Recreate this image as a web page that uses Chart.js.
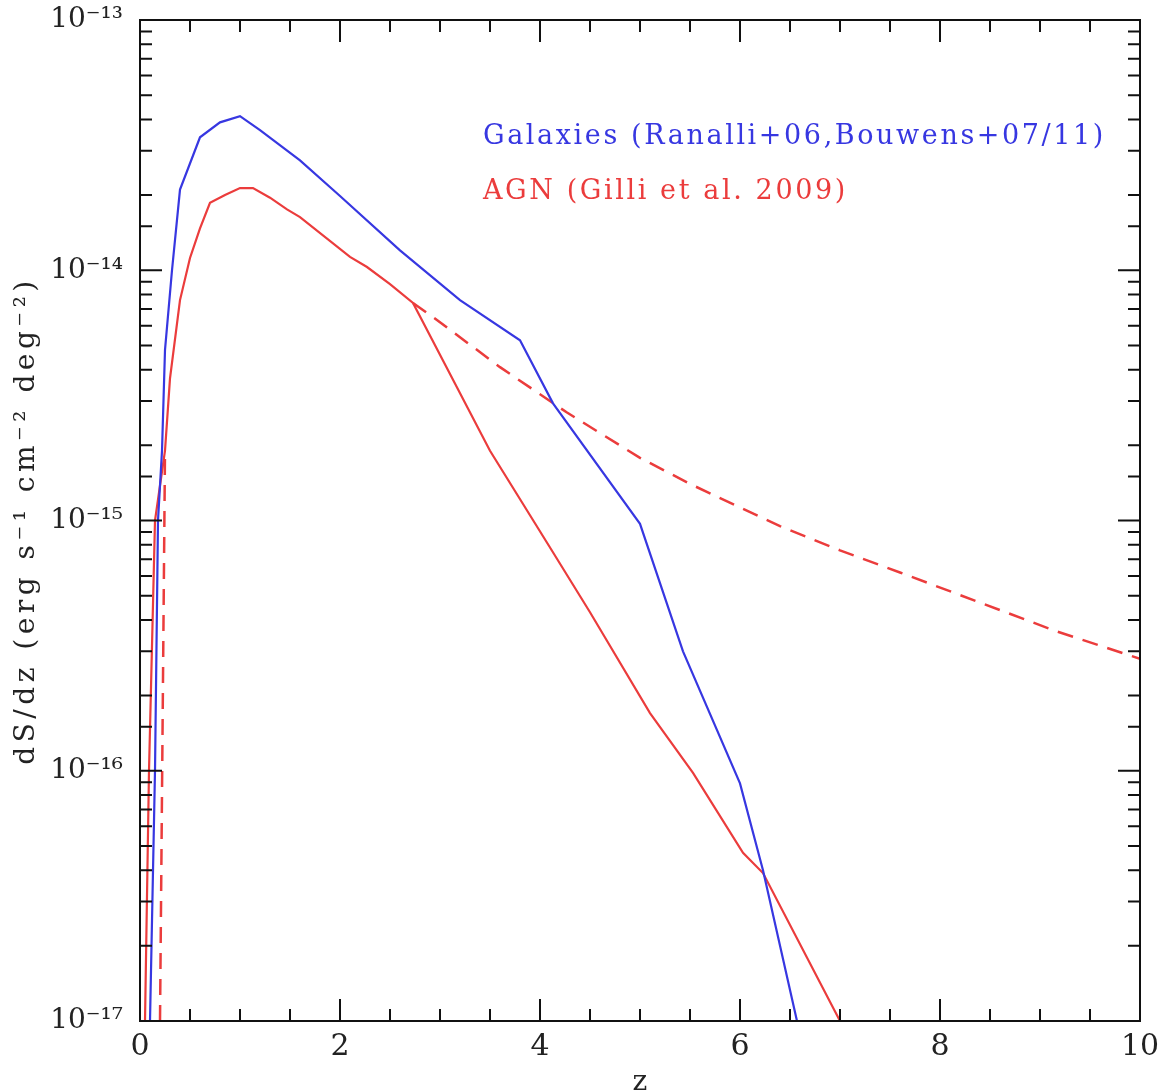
<!DOCTYPE html>
<html>
<head>
<meta charset="utf-8">
<script src="https://cdn.jsdelivr.net/npm/chart.js@4.4.1/dist/chart.umd.min.js"></script>
<style>
  body { margin: 0; background: #fff; }
  #wrap { width: 1160px; height: 1092px; }
</style>
</head>
<body>
<div id="wrap"><canvas id="myChart"></canvas></div>
<script>
// galaxies (blue solid)
const zGal = [0.1, 0.15, 0.18, 0.22, 0.25, 0.32, 0.4, 0.6, 0.8, 1.0, 1.2, 1.6, 2.0, 2.6, 3.2, 3.8, 4.13, 5.0, 5.43, 6.0, 6.23, 6.57];
const galaxies = [1e-17, 1e-16, 1e-15, 1.9e-15, 4.8e-15, 1e-14, 2.1e-14, 3.4e-14, 3.9e-14, 4.13e-14, 3.63e-14, 2.75e-14, 1.98e-14, 1.2e-14, 7.6e-15, 5.25e-15, 2.94e-15, 9.7e-16, 3.0e-16, 8.9e-17, 4.0e-17, 1e-17];

// AGN (red solid)
const zAgn = [0.05, 0.09, 0.15, 0.25, 0.3, 0.4, 0.5, 0.6, 0.7, 0.85, 1.0, 1.13, 1.3, 1.47, 1.6, 2.1, 2.27, 2.5, 2.73, 3.5, 4.1, 4.5, 5.1, 5.53, 6.03, 6.23, 7.0];
const agnSolid = [1e-17, 1e-16, 1e-15, 1.9e-15, 3.7e-15, 7.6e-15, 1.12e-14, 1.47e-14, 1.86e-14, 2.0e-14, 2.13e-14, 2.13e-14, 1.95e-14, 1.75e-14, 1.63e-14, 1.13e-14, 1.03e-14, 8.8e-15, 7.4e-15, 1.9e-15, 7.8e-16, 4.3e-16, 1.7e-16, 9.8e-17, 4.7e-17, 3.9e-17, 1e-17];

// AGN (red dashed), null = gap where it runs under the solid line
const zAgnDash = [0.2, 0.25, 1.0, 2.73, 2.93, 3.6, 4.27, 5.0, 5.5, 6.4, 7.0, 7.6, 8.4, 9.17, 10];
const agnDash = [1e-17, 1.9e-15, null, 7.4e-15, 6.5e-15, 4.1e-15, 2.7e-15, 1.78e-15, 1.4e-15, 9.5e-16, 7.6e-16, 6.2e-16, 4.7e-16, 3.6e-16, 2.8e-16];

const xTickLabels = ['0', '2', '4', '6', '8', '10'];
const yTickLabels = {'-17': '10⁻¹⁷', '-16': '10⁻¹⁶', '-15': '10⁻¹⁵', '-14': '10⁻¹⁴', '-13': '10⁻¹³'};
const yTitle = 'dS/dz (erg s⁻¹ cm⁻² deg⁻²)';

const blue = 'rgb(55,55,225)';
const red = 'rgb(235,60,60)';
const serif = '"DejaVu Serif", serif';

const pts = (xs, ys) => xs.map((x, i) => ({x: x, y: ys[i]}));

// frame on all four sides with inward ticks
const frameTicks = {
    id: 'frameTicks',
    afterDraw(chart) {
        const {ctx, chartArea: {left, right, top, bottom}, scales: {x, y}} = chart;
        ctx.save();
        ctx.strokeStyle = '#111';
        ctx.lineWidth = 2;
        ctx.strokeRect(left, top, right - left, bottom - top);
        ctx.beginPath();
        x.ticks.forEach(t => {
            const px = x.getPixelForValue(t.value);
            const len = Math.abs(t.value % 2) < 1e-6 ? 22 : 12;
            ctx.moveTo(px, bottom); ctx.lineTo(px, bottom - len);
            ctx.moveTo(px, top); ctx.lineTo(px, top + len);
        });
        y.ticks.forEach(t => {
            const py = y.getPixelForValue(t.value);
            const e = Math.log10(t.value);
            const len = Math.abs(e - Math.round(e)) < 1e-6 ? 22 : 12;
            ctx.moveTo(left, py); ctx.lineTo(left + len, py);
            ctx.moveTo(right, py); ctx.lineTo(right - len, py);
        });
        ctx.stroke();

        // y axis title, spaced out like the original plot font
        ctx.translate(27, (top + bottom) / 2);
        ctx.rotate(-Math.PI / 2);
        ctx.font = '28px ' + serif;
        ctx.letterSpacing = '4.5px';
        ctx.fillStyle = '#222';
        ctx.textAlign = 'center';
        ctx.textBaseline = 'middle';
        ctx.fillText(yTitle, 0, 0);
        ctx.restore();
    }
};

// coloured text labels in the upper right
const textLegend = {
    id: 'textLegend',
    afterDraw(chart) {
        const ctx = chart.ctx;
        ctx.save();
        ctx.font = '27px ' + serif;
        ctx.letterSpacing = '2.6px';
        ctx.textBaseline = 'middle';
        ctx.textAlign = 'left';
        [0, 1].forEach((i, k) => {
            const ds = chart.data.datasets[i];
            ctx.fillStyle = ds.borderColor;
            ctx.fillText(ds.label, 483, 137 + k * 55);
        });
        ctx.restore();
    }
};

new Chart(document.getElementById('myChart'), {
    type: 'line',
    data: {
        datasets: [{
            label: 'Galaxies (Ranalli+06,Bouwens+07/11)',
            data: pts(zGal, galaxies),
            borderColor: blue,
            borderWidth: 2.2,
            pointRadius: 0,
            fill: false
        }, {
            label: 'AGN (Gilli et al. 2009)',
            data: pts(zAgn, agnSolid),
            borderColor: red,
            borderWidth: 2.2,
            pointRadius: 0,
            fill: false
        }, {
            label: '',
            data: pts(zAgnDash, agnDash),
            borderColor: red,
            borderWidth: 2.5,
            borderDash: [16, 10],
            pointRadius: 0,
            spanGaps: false,
            fill: false
        }]
    },
    options: {
        responsive: true,
        maintainAspectRatio: false,
        animation: false,
        layout: {padding: {top: 20, right: 20, left: 0, bottom: 0}},
        plugins: {
            legend: {display: false},
            tooltip: {enabled: false}
        },
        scales: {
            x: {
                type: 'linear',
                min: 0,
                max: 10,
                grid: {display: false, drawTicks: false},
                border: {display: false},
                ticks: {
                    stepSize: 0.5,
                    autoSkip: false,
                    maxRotation: 0,
                    padding: 8,
                    color: '#222',
                    font: {family: serif, size: 30},
                    callback: v => Math.abs(v % 2) < 1e-6 ? xTickLabels[Math.round(v / 2)] : ''
                },
                title: {
                    display: true,
                    text: 'z',
                    color: '#222',
                    font: {family: serif, size: 28, lineHeight: 0.8},
                    padding: {top: 0, bottom: -2}
                },
                afterFit: s => { s.height = 71; s.paddingLeft = 0; s.paddingRight = 0; }
            },
            y: {
                type: 'logarithmic',
                min: 1e-17,
                max: 1e-13,
                grid: {display: false, drawTicks: false},
                border: {display: false},
                ticks: {
                    autoSkip: false,
                    padding: 17,
                    color: '#222',
                    font: {family: serif, size: 28},
                    callback: v => {
                        const e = Math.log10(v);
                        return Math.abs(e - Math.round(e)) < 1e-6 ? yTickLabels[String(Math.round(e))] : '';
                    }
                },
                afterFit: s => { s.width = 140; s.paddingTop = 0; s.paddingBottom = 0; }
            }
        }
    },
    plugins: [frameTicks, textLegend]
});
</script>
</body>
</html>
